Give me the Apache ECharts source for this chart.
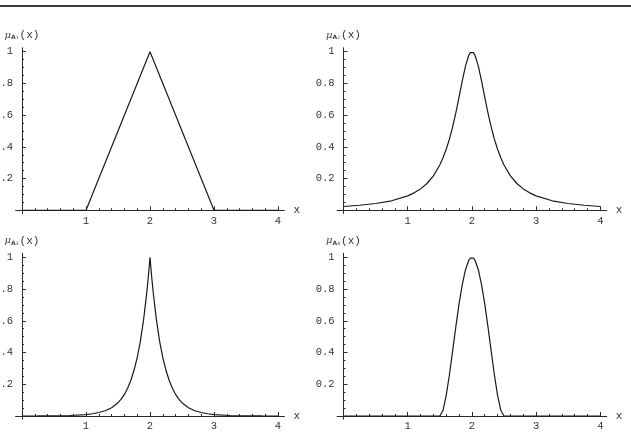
<!DOCTYPE html>
<html>
<head>
<meta charset="utf-8">
<script src="https://cdn.jsdelivr.net/npm/echarts@6/dist/echarts.min.js"></script>
<style>
  html, body { margin: 0; padding: 0; background: #fff; }
  #chart { width: 631px; height: 444px; }
</style>
</head>
<body>
<div id="chart"></div>
<script>
var myChart = echarts.init(document.getElementById('chart'))

// tick labels
const xTicks = [1, 2, 3, 4]
const yTicks = [0.2, 0.4, 0.6, 0.8, 1]
const xMinor = [0.2, 0.4, 0.6, 0.8, 1.2, 1.4, 1.6, 1.8, 2.2, 2.4, 2.6, 2.8, 3.2, 3.4, 3.6, 3.8]
const yMinor = [0.05, 0.1, 0.15, 0.25, 0.3, 0.35, 0.45, 0.5, 0.55, 0.65, 0.7, 0.75, 0.85, 0.9, 0.95]

// A1: triangle
const xTri = [0, 1, 2, 3, 4]
const muA1 = [0, 0, 1, 0, 0]

// A2..A4
const xs = [0, 0.25, 0.5, 0.75, 1, 1.1, 1.2, 1.3, 1.4, 1.5, 1.55, 1.6, 1.65, 1.7, 1.75, 1.8, 1.85, 1.9, 1.95, 1.975,
  2, 2.025, 2.05, 2.1, 2.15, 2.2, 2.25, 2.3, 2.35, 2.4, 2.45, 2.5, 2.6, 2.7, 2.8, 2.9, 3, 3.25, 3.5, 3.75, 4]
const muA2 = [0.024, 0.032, 0.043, 0.060, 0.091, 0.110, 0.135, 0.169, 0.217, 0.286, 0.331, 0.385, 0.449, 0.526, 0.615, 0.714, 0.816, 0.909, 0.976, 0.994,
  1, 0.994, 0.976, 0.909, 0.816, 0.714, 0.615, 0.526, 0.449, 0.385, 0.331, 0.286, 0.217, 0.169, 0.135, 0.110, 0.091, 0.060, 0.043, 0.032, 0.024]
const muA3 = [0, 0.0003, 0.001, 0.003, 0.009, 0.014, 0.022, 0.033, 0.052, 0.084, 0.106, 0.136, 0.175, 0.224, 0.288, 0.368, 0.472, 0.607, 0.779, 0.882,
  1, 0.882, 0.779, 0.607, 0.472, 0.368, 0.288, 0.224, 0.175, 0.136, 0.106, 0.084, 0.052, 0.033, 0.022, 0.014, 0.009, 0.003, 0.001, 0.0003, 0]
const muA4 = [0, 0, 0, 0, 0, 0, 0, 0, 0, 0, 0.036, 0.130, 0.260, 0.410, 0.563, 0.706, 0.828, 0.922, 0.980, 0.995,
  1, 0.995, 0.980, 0.922, 0.828, 0.706, 0.563, 0.410, 0.260, 0.130, 0.036, 0, 0, 0, 0, 0, 0, 0, 0, 0, 0]

const xMin = -0.1, xMax = 4.1, yMin = -0.02, yMax = 1.025
const monoFont = 'Liberation Mono'
const ink = '#2a2a2a'

// origin and scale of each panel, in px
const panels = [
  { ox: 22, oy: 210.3, sx: 64, sy: 158.6, sub: '1', x: xTri, y: muA1 },
  { ox: 343.5, oy: 210.3, sx: 64.2, sy: 158.6, sub: '2', x: xs, y: muA2 },
  { ox: 22, oy: 416, sx: 64, sy: 158.7, sub: '3', x: xs, y: muA3 },
  { ox: 343.5, oy: 416, sx: 64.2, sy: 158.7, sub: '4', x: xs, y: muA4 }
]

let grids = [], xAxes = [], yAxes = [], series = []

panels.forEach((p, i) => {
  grids.push({
    left: p.ox + xMin * p.sx,
    top: p.oy - yMax * p.sy,
    width: (xMax - xMin) * p.sx,
    height: (yMax - yMin) * p.sy,
    containLabel: false,
    outerBoundsMode: 'none'
  })
  // main x axis
  xAxes.push({
    type: 'value', gridIndex: i, position: 'bottom', min: xMin, max: xMax,
    axisLine: { onZero: true, lineStyle: { color: ink, width: 1 } },
    axisTick: { show: true, inside: true, length: 4, customValues: xTicks, lineStyle: { color: ink } },
    axisLabel: { customValues: xTicks, margin: 2, fontFamily: monoFont, fontSize: 10.5, color: '#333' },
    splitLine: { show: false },
    name: 'x', nameLocation: 'end', nameGap: 9,
    nameTextStyle: { fontFamily: monoFont, fontSize: 11, color: '#333' }
  })
  // minor x ticks
  xAxes.push({
    type: 'value', gridIndex: i, position: 'bottom', min: xMin, max: xMax,
    axisLine: { show: false, onZero: true },
    axisTick: { show: true, inside: true, length: 2, customValues: xMinor, lineStyle: { color: ink } },
    axisLabel: { show: false },
    splitLine: { show: false }
  })
  yAxes.push({
    type: 'value', gridIndex: i, position: 'left', min: yMin, max: yMax,
    axisLine: { onZero: true, lineStyle: { color: ink, width: 1 } },
    axisTick: { show: true, inside: true, length: 4, customValues: yTicks, lineStyle: { color: ink } },
    axisLabel: { customValues: yTicks, margin: 2.5, fontFamily: monoFont, fontSize: 10.5, color: '#333',
      formatter: v => String(v) },
    splitLine: { show: false },
    name: '{mu|μ}{a|A}{s|' + p.sub + '}{p|(x)}',
    nameLocation: 'end', nameGap: 7,
    nameTextStyle: {
      align: 'center',
      rich: {
        mu: { fontFamily: 'DejaVu Serif', fontStyle: 'italic', fontSize: 10, color: '#444' },
        a: { fontFamily: 'DejaVu Sans', fontWeight: 'bold', fontSize: 6, color: '#444', verticalAlign: 'bottom', padding: [3, 0, 0, 0] },
        s: { fontFamily: 'DejaVu Sans', fontSize: 4.5, color: '#444', verticalAlign: 'bottom', padding: [4, 1, 0, 0] },
        p: { fontFamily: monoFont, fontSize: 11, color: '#333' }
      }
    }
  })
  yAxes.push({
    type: 'value', gridIndex: i, position: 'left', min: yMin, max: yMax,
    axisLine: { show: false, onZero: true },
    axisTick: { show: true, inside: true, length: 2, customValues: yMinor, lineStyle: { color: ink } },
    axisLabel: { show: false },
    splitLine: { show: false }
  })
  series.push({
    type: 'line',
    xAxisIndex: 2 * i,
    yAxisIndex: 2 * i,
    data: p.x.map((x, j) => [x, p.y[j]]),
    showSymbol: false,
    lineStyle: { color: '#1a1a1a', width: 1.2 },
    silent: true
  })
})

myChart.setOption({
  animation: false,
  grid: grids,
  xAxis: xAxes,
  yAxis: yAxes,
  series: series,
  graphic: [{
    type: 'line',
    shape: { x1: 0, y1: 6, x2: 631, y2: 6 },
    style: { stroke: '#3a3a3a', lineWidth: 2 }
  }]
})
</script>
</body>
</html>
